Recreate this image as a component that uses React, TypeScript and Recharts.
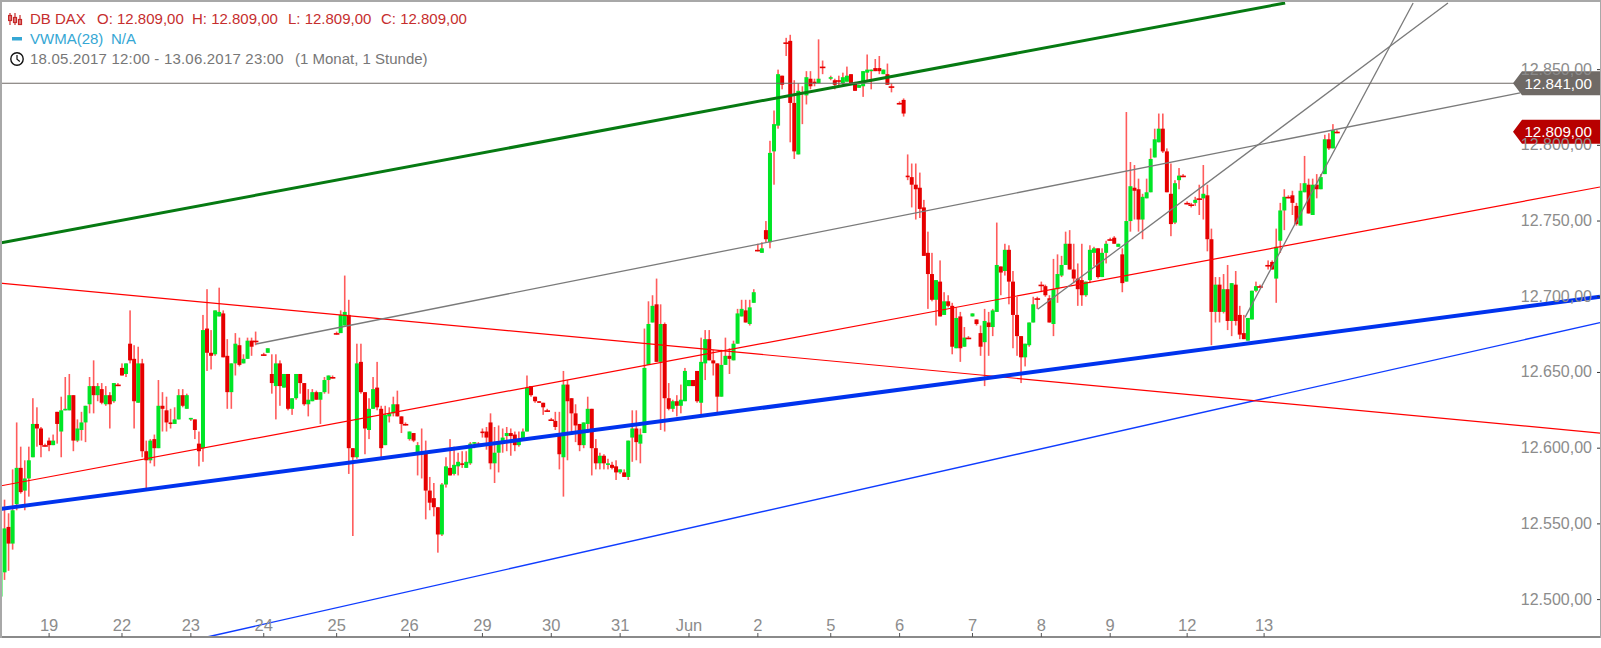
import React from "react";
import { ComposedChart, Bar, XAxis, YAxis, ReferenceLine } from "recharts";

type Row = [number, number, number, number] | null; // open, high, low, close

const may18: Row[] = [[12502,12533,12502,12518],[12518,12566,12513,12547],[12548,12557,12519,12537],[12537,12586,12533,12559],[12563,12617,12559,12587],[12587,12601,12570,12571],[12572,12592,12559,12580],[12580,12601,12568,12592],[12594,12633,12594,12616],[12616,12627,12601,12613],[12613,12614,12594,12602],[12602,12603,12601,12602]];
const may19: Row[] = [[12605,12607,12598,12602],[12602,12609,12602,12605],[12624,12624,12603,12616],[12611,12634,12594,12625],[12625,12647,12625,12626],[12625,12649,12625,12635],[12635,12635,12598,12605],[12605,12619,12604,12613],[12612,12624,12605,12617],[12617,12628,12604,12628],[12629,12647,12623,12641],[12641,12658,12623,12635],[12635,12643,12631,12641],[12639,12643,12629,12630],[12629,12641,12628,12635],[12635,12637,12613,12629],[12631,12643,12630,12643],[12642,12643,12641,12642]];
const may22: Row[] = [[12653,12656,12648,12648],[12649,12656,12647,12656],[12669,12691,12656,12658],[12659,12668,12613,12631],[12630,12667,12630,12656],[12656,12659,12594,12598],[12598,12605,12572,12592],[12592,12606,12590,12605],[12606,12609,12588,12600],[12600,12645,12600,12628],[12628,12637,12611,12626],[12625,12634,12611,12617],[12617,12626,12613,12616],[12616,12627,12616,12619],[12619,12639,12619,12635],[12635,12639,12627,12628],[12626,12636,12626,12635]];
const may23: Row[] = [[12619,12620,12618,12620],[12619,12619,12606,12612],[12603,12611,12588,12598],[12600,12688,12591,12678],[12679,12705,12651,12663],[12663,12678,12652,12661],[12662,12691,12661,12691],[12687,12706,12687,12690],[12689,12691,12660,12660],[12661,12672,12626,12637],[12637,12656,12626,12656],[12656,12676,12648,12669],[12668,12673,12654,12655],[12656,12662,12656,12659],[12659,12673,12659,12671],[12671,12673,12661,12667],[12671,12677,12668,12671],null];
const may24: Row[] = [[12662,12663,12661,12662],[12663,12666,12663,12666],[12649,12662,12636,12643],[12641,12662,12619,12656],[12656,12658,12628,12641],[12640,12649,12640,12649],[12649,12649,12625,12626],[12626,12633,12622,12633],[12633,12649,12632,12649],[12649,12649,12636,12643],[12643,12643,12628,12629],[12629,12639,12621,12632],[12631,12639,12631,12637],[12637,12638,12632,12632],[12632,12637,12616,12637],[12637,12647,12636,12645],[12645,12648,12636,12648],[12647,12648,12646,12647]];
const may25: Row[] = [[12676,12677,12675,12676],[12676,12691,12676,12688],[12681,12714,12681,12690],[12688,12698,12583,12600],[12600,12600,12542,12594],[12594,12669,12593,12656],[12657,12669,12636,12637],[12637,12637,12596,12613],[12612,12633,12606,12626],[12626,12647,12626,12639],[12640,12657,12625,12627],[12626,12628,12594,12600],[12602,12628,12602,12622],[12621,12627,12617,12623],[12623,12634,12621,12629],[12629,12638,12621,12621],[12621,12621,12610,12616],[12616,12617,12615,12616]];
const may26: Row[] = [[12606,12611,12605,12611],[12610,12610,12604,12605],[12597,12604,12582,12602],[12597,12613,12580,12596],[12597,12605,12553,12572],[12572,12581,12559,12564],[12567,12577,12555,12561],[12561,12561,12531,12543],[12543,12577,12542,12576],[12576,12594,12574,12588],[12587,12606,12582,12582],[12583,12601,12582,12589],[12588,12597,12582,12591],[12590,12598,12587,12589],[12587,12598,12587,12591],[12590,12604,12589,12603],[12603,12604,12600,12604],[12603,12604,12602,12603]];
const may29: Row[] = [[12611,12613,12607,12610],[12611,12614,12599,12607],[12617,12623,12586,12590],[12590,12614,12577,12597],[12597,12615,12584,12603],[12603,12613,12597,12607],[12608,12614,12598,12610],[12610,12613,12595,12608],[12609,12611,12598,12602],[12602,12611,12601,12606],[12606,12613,12605,12611],[12611,12648,12611,12640],[12641,12641,12634,12635],[12634,12634,12630,12631],[12631,12631,12630,12630],[12630,12630,12622,12627],[12625,12626,12624,12625]];
const may30: Row[] = [[12619,12620,12618,12619],[12618,12624,12612,12614],[12610,12624,12586,12596],[12594,12651,12568,12642],[12642,12645,12592,12631],[12633,12633,12610,12623],[12623,12629,12604,12615],[12616,12616,12598,12602],[12602,12617,12600,12617],[12616,12634,12610,12626],[12626,12626,12582,12600],[12600,12606,12586,12590],[12590,12597,12586,12595],[12595,12596,12586,12590],[12589,12593,12586,12590],[12589,12591,12586,12587],[12588,12592,12579,12584]];
const may31: Row[] = [[12584,12586,12583,12586],[12584,12586,12581,12581],[12581,12605,12579,12605],[12607,12625,12591,12613],[12613,12625,12592,12604],[12603,12613,12590,12609],[12610,12679,12610,12653],[12655,12697,12655,12682],[12683,12701,12683,12694],[12695,12712,12657,12657],[12657,12695,12612,12682],[12682,12683,12611,12633],[12633,12643,12625,12626],[12626,12632,12624,12631],[12631,12635,12621,12628],[12628,12642,12623,12632],[12631,12653,12631,12651]];
const jun1: Row[] = [[12641,12645,12641,12645],[12645,12645,12641,12641],[12651,12651,12630,12631],[12630,12673,12622,12657],[12656,12678,12645,12672],[12672,12678,12658,12658],[12658,12665,12648,12656],[12656,12656,12623,12634],[12634,12665,12634,12655],[12655,12673,12655,12661],[12661,12666,12649,12659],[12658,12671,12658,12669],[12669,12692,12669,12689],[12687,12698,12687,12692],[12691,12698,12683,12683],[12682,12698,12681,12693],[12696,12705,12696,12703]];
const jun2: Row[] = [[12731,12735,12730,12731],[12729,12736,12729,12732],[12744,12750,12736,12738],[12736,12803,12732,12795],[12796,12823,12774,12814],[12813,12850,12811,12847],[12846,12846,12837,12840],[12868,12871,12859,12868],[12869,12873,12802,12828],[12828,12843,12791,12796],[12794,12841,12794,12836],[12835,12839,12814,12834],[12833,12849,12827,12845],[12844,12849,12837,12839],[12842,12844,12839,12841],[12841,12870,12841,12844],[12852,12856,12847,12852],null];
const jun5: Row[] = [[12844,12846,12843,12845],[12843,12844,12837,12840],[12843,12846,12839,12843],[12841,12848,12840,12845],[12842,12852,12842,12846],[12847,12847,12841,12841],[12841,12842,12836,12836],[12838,12840,12838,12840],[12839,12849,12832,12849],[12848,12860,12843,12850],[12849,12850,12837,12850],[12851,12857,12849,12849],[12851,12859,12847,12849],[12847,12850,12847,12850],[12847,12854,12840,12840],[12839,12841,12835,12839],null];
const jun6: Row[] = [[12828,12829,12827,12828],[12830,12831,12819,12821],[12780,12794,12777,12779],[12779,12788,12759,12774],[12774,12788,12751,12771],[12772,12782,12752,12758],[12759,12764,12727,12727],[12729,12743,12692,12715],[12715,12729,12697,12698],[12698,12711,12681,12711],[12710,12724,12687,12687],[12688,12703,12688,12697],[12697,12701,12693,12694],[12694,12696,12662,12667],[12666,12693,12666,12686],[12687,12690,12657,12666],[12667,12680,12667,12673],[12673,12674,12672,12673]];
const jun7: Row[] = [[12687,12689,12687,12689],[12685,12685,12681,12682],[12676,12681,12661,12667],[12670,12692,12641,12684],[12683,12690,12661,12680],[12680,12692,12674,12691],[12690,12749,12690,12721],[12720,12720,12701,12716],[12717,12735,12714,12731],[12731,12734,12695,12710],[12710,12717,12666,12688],[12688,12700,12661,12674],[12674,12674,12643,12660],[12660,12669,12654,12669],[12668,12683,12667,12683],[12683,12700,12683,12695],[12699,12700,12692,12699]];
const jun8: Row[] = [[12708,12710,12703,12708],[12707,12708,12700,12701],[12699,12701,12683,12683],[12682,12725,12674,12705],[12705,12728,12696,12715],[12714,12727,12713,12721],[12721,12743,12721,12735],[12735,12744,12718,12718],[12718,12735,12709,12712],[12712,12722,12694,12705],[12711,12735,12694,12701],[12701,12710,12700,12710],[12711,12734,12709,12731],[12729,12733,12720,12732],[12732,12732,12712,12713],[12713,12732,12713,12729],[12729,12737,12722,12735]];
const jun9: Row[] = [[12738,12739,12737,12738],[12739,12740,12735,12735],[12733,12735,12733,12735],[12728,12732,12703,12709],[12710,12822,12710,12750],[12750,12789,12743,12773],[12772,12787,12751,12770],[12771,12778,12743,12751],[12751,12768,12738,12766],[12765,12778,12765,12769],[12769,12798,12769,12791],[12792,12811,12792,12804],[12802,12821,12802,12811],[12811,12821,12795,12796],[12796,12798,12769,12769],[12768,12788,12740,12748],[12749,12777,12748,12775],[12777,12785,12771,12780],[12780,12781,12779,12780]];
const jun12: Row[] = [[12762,12763,12761,12762],[12761,12762,12759,12761],[12762,12766,12760,12764],[12765,12774,12754,12765],[12765,12787,12751,12768],[12767,12774,12730,12738],[12738,12745,12668,12690],[12690,12713,12683,12708],[12708,12713,12683,12690],[12690,12715,12689,12705],[12705,12721,12678,12684],[12684,12709,12674,12709],[12708,12717,12681,12684],[12688,12694,12672,12675],[12676,12688,12672,12672],[12671,12686,12671,12686],[12685,12704,12685,12704],[12704,12710,12703,12707],[12707,12708,12706,12707]];
const jun13: Row[] = [null,[12721,12724,12718,12721],[12723,12724,12718,12718],[12712,12745,12696,12733],[12737,12762,12729,12757],[12757,12771,12744,12766],[12766,12767,12765,12766],[12767,12770,12754,12762],[12760,12762,12747,12748],[12747,12775,12747,12770],[12769,12793,12769,12775],[12774,12778,12755,12755],[12754,12778,12754,12774],[12774,12781,12765,12771],[12771,12781,12771,12779],[12781,12807,12781,12804],[12804,12808,12797,12798],[12798,12814,12798,12810],[12809,12810,12808,12809]];

const sessions = [may18, may19, may22, may23, may24, may25, may26, may29, may30, may31, jun1, jun2, jun5, jun6, jun7, jun8, jun9, jun12, jun13];

const xTickValues = [13, 31, 48, 66, 84, 102, 120, 137, 154, 171, 188, 206, 223, 241, 258, 275, 294, 313];
const xTickLabels = ["19", "22", "23", "24", "25", "26", "29", "30", "31", "Jun", "2", "5", "6", "7", "8", "9", "12", "13"];
const yTickValues = [12500, 12550, 12600, 12650, 12700, 12750, 12800, 12850];

const lastPrice = 12809;
const markedPrice = 12841;

// trend lines: [barFrom, priceFrom, barTo, priceTo]
const greenLine = [0.877, 12735.5, 318.2, 12894];
const grayChannel = [64.1, 12668.8, 376.2, 12834.7];
const redFalling = [0.877, 12709, 395.94, 12610];
const redRising = [0.877, 12575, 395.94, 12772.5];
const blueThick = [0.877, 12559.9, 395.94, 12700];
const blueThin = [52, 12475.3, 395.94, 12682.9];
const graySteep = [257.1, 12691.7, 358.4, 12894];
const graySteeper = [308.3, 12686.4, 349.8, 12894];

const rows = sessions
  .flat()
  .map((r, i) => (r ? { n: i + 1, o: r[0], h: r[1], l: r[2], c: r[3] } : null))
  .filter(Boolean) as { n: number; o: number; h: number; l: number; c: number }[];

const FONT = '"Liberation Sans", Arial, sans-serif';
const UP = "#00e526";
const DOWN = "#e60000";
const WICK = "#ff5c5c";

function Candle(props: any) {
  const { x, y, width, height, payload } = props;
  const k = height / (payload.h - payload.l);
  const cx = x + width / 2;
  const top = y + (payload.h - Math.max(payload.o, payload.c)) * k;
  const bodyH = Math.max(Math.abs(payload.o - payload.c) * k, 1.6);
  const flat = Math.abs(payload.o - payload.c) < 0.5;
  return (
    <g>
      <rect x={cx - 0.8} y={y} width={1.6} height={height} fill={WICK} />
      <rect
        x={flat ? cx - 2.8 : cx - 2}
        y={top}
        width={flat ? 5.6 : 4}
        height={bodyH}
        fill={payload.c >= payload.o && !flat ? UP : DOWN}
      />
    </g>
  );
}

function XTick(props: any) {
  const { x, payload } = props;
  const i = xTickValues.indexOf(payload.value);
  return (
    <g>
      <line x1={x} x2={x} y1={633} y2={637} stroke="#555" strokeWidth={1} />
      <text x={x} y={631} textAnchor="middle" fill="#8c8c8c" fontSize={16.5} fontFamily={FONT}>
        {xTickLabels[i]}
      </text>
    </g>
  );
}

function YTick(props: any) {
  const { y, payload } = props;
  const s = String(payload.value);
  return (
    <g>
      <line x1={1597} x2={1600} y1={y} y2={y} stroke="#333" strokeWidth={1} />
      <text x={1592} y={y + 5} textAnchor="end" fill="#8c8c8c" fontSize={16} fontFamily={FONT}>
        {s.slice(0, 2) + "." + s.slice(2) + ",00"}
      </text>
    </g>
  );
}

function priceTag(value: number, fill: string) {
  return (p: any) => {
    const y = p.viewBox.y;
    const s = String(value);
    return (
      <g>
        <polygon
          points={`1513,${y} 1522,${y - 12} 1601,${y - 12} 1601,${y + 12} 1522,${y + 12}`}
          fill={fill}
        />
        <text x={1592} y={y + 5.5} textAnchor="end" fill="#fff" fontSize={15.2} fontFamily={FONT}>
          {s.slice(0, 2) + "." + s.slice(2) + ",00"}
        </text>
      </g>
    );
  };
}

function seg(line: number[]) {
  return [
    { x: line[0], y: line[1] },
    { x: line[2], y: line[3] },
  ] as any;
}

const legendText: React.CSSProperties = {
  position: "absolute",
  fontFamily: FONT,
  fontSize: 15,
  lineHeight: "18px",
  whiteSpace: "nowrap",
};

export default function App() {
  return (
    <div style={{ position: "fixed", left: 0, top: 0, width: 1601, height: 648, background: "#fff", overflow: "hidden" }}>
      <ComposedChart
        width={1601}
        height={648}
        data={rows}
        margin={{ top: 3, right: 0, bottom: 10, left: 0 }}
      >
        <XAxis
          dataKey="n"
          type="number"
          domain={[0.877, 395.94]}
          allowDataOverflow
          ticks={xTickValues}
          interval={0}
          height={1}
          tickLine={false}
          tick={<XTick />}
          axisLine={{ stroke: "#8a8a8a", strokeWidth: 2 }}
        />
        <YAxis
          orientation="right"
          width={1}
          type="number"
          domain={[12475.3, 12894]}
          allowDataOverflow
          ticks={yTickValues}
          interval={0}
          tickLine={false}
          axisLine={false}
          tick={<YTick />}
        />
        <Bar dataKey={(d: any) => [d.l, d.h]} barSize={4} shape={<Candle />} isAnimationActive={false} />
        <ReferenceLine segment={seg(blueThin)} stroke="#0f3cff" strokeWidth={1.4} ifOverflow="visible" />
        <ReferenceLine segment={seg(redFalling)} stroke="#ff0000" strokeWidth={1.2} ifOverflow="visible" />
        <ReferenceLine segment={seg(redRising)} stroke="#ff0000" strokeWidth={1.2} ifOverflow="visible" />
        <ReferenceLine segment={seg(blueThick)} stroke="#0033ee" strokeWidth={4} ifOverflow="visible" />
        <ReferenceLine segment={seg(greenLine)} stroke="#067a12" strokeWidth={3} ifOverflow="visible" />
        <ReferenceLine segment={seg(grayChannel)} stroke="#7a7a7a" strokeWidth={1.3} ifOverflow="visible" />
        <ReferenceLine segment={seg(graySteep)} stroke="#7a7a7a" strokeWidth={1.3} ifOverflow="visible" />
        <ReferenceLine segment={seg(graySteeper)} stroke="#7a7a7a" strokeWidth={1.3} ifOverflow="visible" />
        <ReferenceLine y={markedPrice} stroke="#6f6a66" strokeWidth={1.2} label={priceTag(markedPrice, "#6f6a66")} />
        <ReferenceLine y={lastPrice} stroke="none" label={priceTag(lastPrice, "#b80000")} />
      </ComposedChart>

      <div style={{ position: "absolute", left: 0, top: 0, width: 1601, height: 2, background: "#a8a8a8" }} />
      <div style={{ position: "absolute", left: 0, top: 0, width: 1.5, height: 638, background: "#a8a8a8" }} />
      <div style={{ position: "absolute", left: 1599.5, top: 0, width: 1.5, height: 638, background: "#a8a8a8" }} />

      <svg style={{ position: "absolute", left: 8, top: 12 }} width={16} height={56}>
        <g stroke="#c62828" strokeWidth={1.2} fill="none">
          <line x1={2} x2={2} y1={1} y2={13} />
          <rect x={0.5} y={3.5} width={3} height={5} />
          <line x1={7} x2={7} y1={1} y2={13} />
          <rect x={5.5} y={5.5} width={3} height={5} />
          <line x1={12} x2={12} y1={3} y2={13} />
          <rect x={10.5} y={7.5} width={3} height={5} />
        </g>
        <rect x={4} y={25} width={10} height={3.5} fill="#35a7d4" />
        <circle cx={9} cy={47} r={6.2} stroke="#111" strokeWidth={1.4} fill="none" />
        <path d="M9 43V47.2L11.8 49.5" stroke="#111" strokeWidth={1.2} fill="none" />
      </svg>

      <span style={{ ...legendText, left: 30, top: 10, color: "#c62e2e" }}>DB DAX</span>
      <span style={{ ...legendText, left: 97, top: 10, color: "#c62e2e" }}>O: 12.809,00</span>
      <span style={{ ...legendText, left: 192, top: 10, color: "#c62e2e" }}>H: 12.809,00</span>
      <span style={{ ...legendText, left: 288, top: 10, color: "#c62e2e" }}>L: 12.809,00</span>
      <span style={{ ...legendText, left: 381, top: 10, color: "#c62e2e" }}>C: 12.809,00</span>
      <span style={{ ...legendText, left: 30, top: 30, color: "#35a7d4" }}>VWMA(28)</span>
      <span style={{ ...legendText, left: 111, top: 30, color: "#35a7d4" }}>N/A</span>
      <span style={{ ...legendText, left: 30, top: 50, color: "#777", letterSpacing: 0.2 }}>18.05.2017 12:00 - 13.06.2017 23:00</span>
      <span style={{ ...legendText, left: 295, top: 50, color: "#777" }}>(1 Monat, 1 Stunde)</span>
    </div>
  );
}
